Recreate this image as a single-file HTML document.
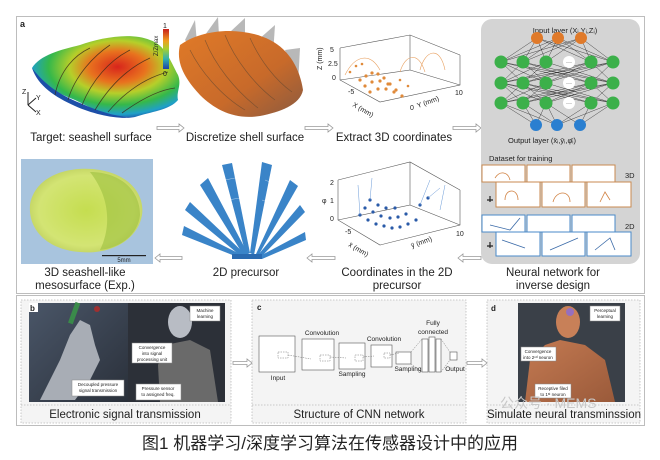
<!DOCTYPE html>
<html><head><meta charset="utf-8"><style>
html,body{margin:0;padding:0;background:#fff;width:660px;height:460px;overflow:hidden}
svg{display:block}
text{font-family:"Liberation Sans",sans-serif;fill:#222}
</style></head><body>
<svg width="660" height="460" viewBox="0 0 660 460" xmlns="http://www.w3.org/2000/svg">
<defs>
<radialGradient id="heat" cx="0.58" cy="0.38" r="0.65">
<stop offset="0" stop-color="#d8251c"/><stop offset="0.3" stop-color="#e8731e"/><stop offset="0.5" stop-color="#b6cf2a"/><stop offset="0.72" stop-color="#35b84a"/><stop offset="0.9" stop-color="#1fa0c8"/><stop offset="1" stop-color="#1d4fa8"/>
</radialGradient>
<linearGradient id="cbar" x1="0" y1="0" x2="0" y2="1">
<stop offset="0" stop-color="#c8201c"/><stop offset="0.3" stop-color="#f0a020"/><stop offset="0.5" stop-color="#a8d030"/><stop offset="0.75" stop-color="#30b0b0"/><stop offset="1" stop-color="#1d40a8"/>
</linearGradient>
<linearGradient id="orng" x1="0" y1="0" x2="1" y2="1">
<stop offset="0" stop-color="#e07a28"/><stop offset="0.6" stop-color="#c86a2a"/><stop offset="1" stop-color="#8a5a40"/>
</linearGradient>
<radialGradient id="jelly" cx="0.5" cy="0.5" r="0.6">
<stop offset="0" stop-color="#c8e040"/><stop offset="0.7" stop-color="#d8e868"/><stop offset="1" stop-color="#b8c848"/>
</radialGradient>
<linearGradient id="hand" x1="0" y1="0" x2="1" y2="1">
<stop offset="0" stop-color="#4a5668"/><stop offset="1" stop-color="#2a303a"/>
</linearGradient>
<linearGradient id="skin" x1="0" y1="0" x2="1" y2="1">
<stop offset="0" stop-color="#c47a52"/><stop offset="1" stop-color="#9a5a3a"/>
</linearGradient>
</defs>

<!-- Top panel -->
<rect x="16.5" y="16.5" width="628" height="277" fill="#fff" stroke="#bdbdbd"/>
<text x="20" y="27" font-size="9" font-weight="bold">a</text>

<!-- shell 1 -->
<path d="M32,68 C40,55 60,50 80,45 C100,38 130,32 150,40 C165,45 170,60 178,75 C182,85 176,92 178,100 C170,110 150,112 135,117 C110,118 95,110 75,100 C55,92 40,85 32,68 Z" fill="url(#heat)"/>
<path d="M32,68 C45,85 60,95 80,103 C100,112 120,118 135,117 C120,120 95,115 75,106 C55,97 38,86 32,68Z" fill="#1d4fa8"/>
<g stroke="#3a2a1a" stroke-width="0.8" fill="none" opacity="0.8">
<path d="M55,95 C60,70 75,55 90,48"/><path d="M68,100 C75,75 95,55 110,45"/><path d="M82,105 C92,80 110,60 130,50"/><path d="M95,110 C110,85 128,68 150,58"/><path d="M108,112 C125,92 145,78 168,72"/><path d="M122,113 C140,100 158,90 175,88"/>
</g>
<rect x="163" y="29" width="6" height="40" fill="url(#cbar)"/>
<text x="163" y="28" font-size="7">1</text><text x="163" y="76" font-size="7">0</text>
<text x="158" y="56" font-size="6" transform="rotate(-90 158 56)">Z/Zmax</text>
<g stroke="#222" stroke-width="1" fill="none"><path d="M28,105 V92"/><path d="M28,105 L36,98"/><path d="M28,105 L36,112"/></g>
<text x="22" y="94" font-size="7">Z</text><text x="36" y="100" font-size="7">Y</text><text x="36" y="115" font-size="7">X</text>

<!-- shell 2 -->
<g fill="#b8b8b8"><path d="M185,40 L195,20 L198,55Z"/><path d="M205,35 L218,17 L220,55Z"/><path d="M230,32 L245,18 L245,60Z"/><path d="M258,40 L275,25 L272,70Z"/><path d="M285,50 L300,48 L298,85Z"/></g>
<path d="M180,45 C200,30 240,25 270,40 C290,50 300,70 303,90 C300,105 280,112 260,116 C235,120 215,110 200,95 C188,82 175,65 180,45Z" fill="url(#orng)"/>
<g stroke="#6a4a30" stroke-width="0.7" fill="none" opacity="0.7">
<path d="M190,50 C200,70 220,95 245,110"/><path d="M205,40 C215,65 235,90 258,108"/><path d="M225,35 C235,60 255,85 275,100"/><path d="M250,38 C260,60 275,80 292,92"/></g>

<!-- 3D plot 1 -->
<g stroke="#555" stroke-width="0.6" fill="none">
<path d="M340,48 V80 L380,102 L460,85 V55"/><path d="M340,48 L410,35 L460,55"/><path d="M410,35 V70 L340,80"/><path d="M410,70 L460,85"/>
</g>
<g fill="#e08a3a">
<circle cx="360" cy="80" r="1.6"/><circle cx="366" cy="76" r="1.6"/><circle cx="372" cy="73" r="1.6"/><circle cx="378" cy="74" r="1.6"/><circle cx="384" cy="78" r="1.6"/><circle cx="390" cy="84" r="1.6"/>
<circle cx="365" cy="86" r="1.6"/><circle cx="372" cy="82" r="1.6"/><circle cx="380" cy="81" r="1.6"/><circle cx="388" cy="84" r="1.6"/><circle cx="396" cy="90" r="1.6"/>
<circle cx="370" cy="92" r="1.6"/><circle cx="378" cy="89" r="1.6"/><circle cx="386" cy="89" r="1.6"/><circle cx="394" cy="92" r="1.6"/><circle cx="402" cy="96" r="1.6"/>
<circle cx="350" cy="72" r="1.3"/><circle cx="356" cy="66" r="1.3"/><circle cx="362" cy="64" r="1.3"/><circle cx="400" cy="80" r="1.3"/><circle cx="408" cy="86" r="1.3"/>
</g>
<g stroke="#e8a060" stroke-width="0.6" fill="none"><path d="M345,75 C355,55 370,52 380,70"/><path d="M420,70 C425,50 440,45 445,70"/><path d="M400,72 C405,55 418,50 425,72"/></g>
<text x="330" y="52" font-size="7">5</text><text x="328" y="66" font-size="7">2.5</text><text x="332" y="80" font-size="7">0</text>
<text x="322" y="70" font-size="7" transform="rotate(-90 322 70)">Z (mm)</text>
<text x="348" y="94" font-size="7">-5</text><text x="352" y="106" font-size="7" transform="rotate(30 352 106)">X (mm)</text>
<text x="410" y="110" font-size="7">0</text><text x="418" y="108" font-size="7" transform="rotate(-20 418 108)">Y (mm)</text><text x="455" y="95" font-size="7">10</text>

<!-- row 1 labels -->
<g font-size="11.5" text-anchor="middle">
<text x="91" y="141">Target: seashell surface</text>
<text x="245" y="141">Discretize shell surface</text>
<text x="394" y="141">Extract 3D coordinates</text>
</g>
<!-- hollow arrows -->
<g fill="#fff" stroke="#999" stroke-width="0.8">
<path d="M157,126.5 H179 V124 L184,128 L179,132 V129.5 H157Z"/>
<path d="M305,126.5 H328 V124 L333,128 L328,132 V129.5 H305Z"/>
<path d="M453,126.5 H476 V124 L481,128 L476,132 V129.5 H453Z"/>
<path d="M182,256.5 H160 V254 L155,258 L160,262 V259.5 H182Z"/>
<path d="M335,256.5 H312 V254 L307,258 L312,262 V259.5 H335Z"/>
<path d="M481,256.5 H463 V254 L458,258 L463,262 V259.5 H481Z"/>
</g>

<!-- neural network box -->
<rect x="481" y="19" width="159" height="245" rx="11" fill="#d4d4d4"/>
<text x="565" y="33" font-size="7.5" text-anchor="middle">Input layer (Xᵢ,Yᵢ,Zᵢ)</text>
<g stroke="#222" stroke-width="0.4">
<path d="M537,38 L501,62 M537,38 L523,62 M537,38 L546,62 M537,38 L591,62 M537,38 L613,62 M558,38 L501,62 M558,38 L523,62 M558,38 L546,62 M558,38 L591,62 M558,38 L613,62 M581,38 L501,62 M581,38 L523,62 M581,38 L546,62 M581,38 L591,62 M581,38 L613,62"/>
<path d="M501,62 L523,83 M501,62 L546,83 M501,62 L591,83 M501,62 L613,83 M523,62 L501,83 M523,62 L546,83 M523,62 L591,83 M523,62 L613,83 M546,62 L501,83 M546,62 L523,83 M546,62 L613,83 M591,62 L501,83 M591,62 L523,83 M591,62 L546,83 M591,62 L613,83 M613,62 L501,83 M613,62 L523,83 M613,62 L546,83 M613,62 L591,83"/>
<path d="M501,83 L523,103 M501,83 L546,103 M501,83 L591,103 M501,83 L613,103 M523,83 L501,103 M523,83 L546,103 M523,83 L591,103 M523,83 L613,103 M546,83 L501,103 M546,83 L523,103 M546,83 L613,103 M591,83 L501,103 M591,83 L523,103 M591,83 L546,103 M591,83 L613,103 M613,83 L501,103 M613,83 L523,103 M613,83 L546,103 M613,83 L591,103"/>
<path d="M501,103 L536,125 M523,103 L536,125 M523,103 L557,125 M546,103 L536,125 M546,103 L557,125 M546,103 L580,125 M591,103 L557,125 M591,103 L580,125 M613,103 L580,125 M501,103 L557,125 M613,103 L557,125"/>
</g>
<g fill="#e07a2a"><circle cx="537" cy="38" r="6"/><circle cx="558" cy="38" r="6"/><circle cx="581" cy="38" r="6"/></g>
<g fill="#3cb04a">
<circle cx="501" cy="62" r="6.5"/><circle cx="523" cy="62" r="6.5"/><circle cx="546" cy="62" r="6.5"/><circle cx="591" cy="62" r="6.5"/><circle cx="613" cy="62" r="6.5"/>
<circle cx="501" cy="83" r="6.5"/><circle cx="523" cy="83" r="6.5"/><circle cx="546" cy="83" r="6.5"/><circle cx="591" cy="83" r="6.5"/><circle cx="613" cy="83" r="6.5"/>
<circle cx="501" cy="103" r="6.5"/><circle cx="523" cy="103" r="6.5"/><circle cx="546" cy="103" r="6.5"/><circle cx="591" cy="103" r="6.5"/><circle cx="613" cy="103" r="6.5"/>
</g>
<g fill="#fff"><circle cx="569" cy="62" r="6"/><circle cx="569" cy="83" r="6"/><circle cx="569" cy="103" r="6"/></g>
<g font-size="6" text-anchor="middle" fill="#888"><text x="569" y="64">···</text><text x="569" y="85">···</text><text x="569" y="105">···</text></g>
<g fill="#2a7fd0"><circle cx="536" cy="125" r="6"/><circle cx="557" cy="125" r="6"/><circle cx="580" cy="125" r="6"/></g>
<text x="542" y="143" font-size="7.5" text-anchor="middle">Output layer (x̄ᵢ,ȳᵢ,φ̄ᵢ)</text>
<text x="489" y="161" font-size="7.5">Dataset for training</text>
<g fill="#fff" stroke="#c88a50" stroke-width="1">
<rect x="482" y="165" width="43" height="17"/><rect x="527" y="165" width="43" height="17"/><rect x="572" y="165" width="43" height="17"/>
<rect x="496" y="182" width="44" height="25"/><rect x="542" y="182" width="43" height="25"/><rect x="587" y="182" width="44" height="25"/>
</g>
<g fill="#fff" stroke="#4a8ac8" stroke-width="1">
<rect x="482" y="215" width="43" height="17"/><rect x="527" y="215" width="43" height="17"/><rect x="572" y="215" width="43" height="17"/>
<rect x="496" y="232" width="44" height="24"/><rect x="542" y="232" width="43" height="24"/><rect x="587" y="232" width="44" height="24"/>
</g>
<g stroke="#d08040" stroke-width="0.8" fill="none"><path d="M505,200 C505,188 518,188 518,200"/><path d="M553,202 C556,190 570,190 570,202"/><path d="M600,202 L605,192 L610,200"/><path d="M495,178 C500,170 508,172 510,180"/></g>
<g stroke="#3a6aa8" stroke-width="0.8" fill="none"><path d="M502,240 L525,248"/><path d="M550,250 L578,238"/><path d="M595,250 L610,238 L615,250"/><path d="M490,225 L510,230 L520,218"/></g>
<text x="625" y="178" font-size="7.5">3D</text><text x="625" y="229" font-size="7.5">2D</text>
<g stroke="#222" stroke-width="1.2"><path d="M487,200 h6 M490,196 v6 M487,246 h6 M490,242 v6"/></g>

<!-- row 2 -->
<rect x="21" y="159" width="132" height="105" fill="#a8c4de"/>
<path d="M30,205 C35,175 70,165 100,170 C130,175 145,195 142,215 C138,240 110,255 80,252 C50,250 28,232 30,205Z" fill="url(#jelly)" opacity="0.9"/>
<path d="M90,172 C120,172 140,190 140,215 C138,235 120,248 100,250 C110,230 112,200 90,172Z" fill="#9cc040" opacity="0.6"/>
<rect x="102" y="255" width="44" height="1.2" fill="#222"/>
<text x="124" y="262" font-size="6" text-anchor="middle">5mm</text>

<!-- fan -->
<g fill="#3a84c8">
<path d="M246,255 L222,165 L232,163 L250,253Z"/><path d="M250,253 L262,162 L272,165 L254,255Z"/>
<path d="M244,256 L200,185 L208,178 L248,254Z"/><path d="M256,254 L290,180 L298,186 L258,256Z"/>
<path d="M242,257 L185,210 L190,202 L246,255Z"/><path d="M258,255 L300,205 L305,212 L260,258Z"/>
<path d="M240,258 L182,235 L184,226 L244,256Z"/><path d="M260,256 L305,232 L306,240 L262,259Z"/>
</g>
<g stroke="#fff" stroke-width="0.5" opacity="0.6"><path d="M225,180 L235,178 M228,200 L240,198 M265,180 L270,182 M262,200 L268,202"/></g>
<rect x="232" y="254" width="30" height="5" fill="#2a6ab0"/>

<!-- 3D plot 2 -->
<g stroke="#555" stroke-width="0.6" fill="none">
<path d="M338,180 V220 L380,245 L460,225 V190"/><path d="M338,180 L410,162 L460,190"/><path d="M410,162 V205 L338,220"/><path d="M410,205 L460,225"/>
</g>
<g fill="#2a5aa8">
<circle cx="360" cy="215" r="1.6"/><circle cx="368" cy="220" r="1.6"/><circle cx="376" cy="224" r="1.6"/><circle cx="384" cy="226" r="1.6"/><circle cx="392" cy="228" r="1.6"/><circle cx="400" cy="227" r="1.6"/><circle cx="408" cy="224" r="1.6"/><circle cx="416" cy="220" r="1.6"/>
<circle cx="365" cy="208" r="1.6"/><circle cx="373" cy="212" r="1.6"/><circle cx="381" cy="216" r="1.6"/><circle cx="390" cy="218" r="1.6"/><circle cx="398" cy="217" r="1.6"/><circle cx="406" cy="214" r="1.6"/>
<circle cx="370" cy="200" r="1.6"/><circle cx="378" cy="205" r="1.6"/><circle cx="386" cy="208" r="1.6"/><circle cx="395" cy="208" r="1.6"/><circle cx="420" cy="205" r="1.6"/><circle cx="428" cy="198" r="1.6"/>
</g>
<g stroke="#6a9ad8" stroke-width="0.5" fill="none"><path d="M360,215 L358,185 M370,200 L372,178 M420,205 L430,180 M428,198 L440,188 M440,210 L445,185"/></g>
<text x="330" y="185" font-size="7">2</text><text x="330" y="203" font-size="7">1</text><text x="330" y="221" font-size="7">0</text><text x="322" y="203" font-size="7">φ</text>
<text x="345" y="234" font-size="7">-5</text><text x="348" y="246" font-size="7" transform="rotate(30 348 246)">x̄ (mm)</text>
<text x="412" y="248" font-size="7" transform="rotate(-20 412 248)">ȳ (mm)</text><text x="456" y="236" font-size="7">10</text>

<g font-size="11.5" text-anchor="middle">
<text x="85" y="276">3D seashell-like</text><text x="85" y="289">mesosurface (Exp.)</text>
<text x="246" y="276">2D precursor</text>
<text x="397" y="276">Coordinates in the 2D</text><text x="397" y="289">precursor</text>
<text x="553" y="276">Neural network for</text><text x="553" y="289">inverse design</text>
</g>

<!-- Bottom panel -->
<rect x="16.5" y="295.5" width="628" height="130" fill="#fff" stroke="#bdbdbd"/>
<g fill="#f4f4f4" stroke="#bbb" stroke-dasharray="1.5,1.5" stroke-width="0.8">
<rect x="21" y="300" width="210" height="123"/><rect x="252" y="300" width="214" height="123"/><rect x="487" y="300" width="153" height="123"/>
</g>
<g stroke="#bbb" stroke-dasharray="1.5,1.5" stroke-width="0.8"><path d="M21,405 H231 M252,405 H466 M487,405 H640"/></g>

<!-- b photo -->
<rect x="29" y="303" width="99" height="99" fill="url(#hand)"/>
<rect x="128" y="303" width="97" height="99" fill="#2c3038"/>
<path d="M40,400 L60,360 L70,335 L80,320 L90,325 L95,345 L100,360 L90,380 L75,400Z" fill="#a8adb5"/>
<rect x="72" y="302" width="5" height="22" fill="#3a8a4a" transform="rotate(20 74 312)"/>
<circle cx="97" cy="309" r="3" fill="#a03030"/>
<path d="M160,402 L158,365 L165,345 L190,340 L210,350 L218,402Z" fill="#6a6a6a"/>
<ellipse cx="180" cy="322" rx="12" ry="16" fill="#b8bcc4"/>
<g fill="#fff" stroke="#888" stroke-width="0.5"><rect x="190" y="306" width="30" height="15"/><rect x="132" y="343" width="40" height="20"/><rect x="72" y="380" width="52" height="16"/><rect x="136" y="384" width="45" height="16"/></g>
<g font-size="4.5" text-anchor="middle" fill="#333"><text x="205" y="312">Machine</text><text x="205" y="318">learning</text>
<text x="152" y="349">Convergence</text><text x="152" y="355">into signal</text><text x="152" y="361">processing unit</text>
<text x="98" y="386">Decoupled pressure</text><text x="98" y="392">signal transmission</text>
<text x="158" y="390">Pressure sensor</text><text x="158" y="396">to assigned freq.</text></g>
<rect x="29" y="303" width="9" height="9" fill="#fff"/><text x="30" y="311" font-size="8" font-weight="bold">b</text>

<!-- c CNN -->
<text x="257" y="310" font-size="8" font-weight="bold">c</text>
<g fill="#fff" stroke="#555" stroke-width="0.6">
<rect x="259" y="336" width="36" height="36"/><rect x="302" y="339" width="32" height="31"/><rect x="339" y="343" width="26" height="26"/><rect x="371" y="345" width="21" height="22"/><rect x="396" y="352" width="15" height="12"/>
<rect x="422" y="339" width="6" height="33"/><rect x="429" y="337" width="6" height="35"/><rect x="436" y="339" width="5" height="33"/><rect x="450" y="352" width="7" height="8"/>
</g>
<g stroke="#777" stroke-width="0.5" stroke-dasharray="1.5,1" fill="none"><path d="M278,352 h10 v6 h-10z M288,355 L311,359 M320,355 h10 v6 h-10z M330,357 L346,358 M355,355 h8 v6 h-8z M363,357 L374,356 M384,353 h6 v5 h-6z M390,355 L399,353 M411,352 L422,339 M411,364 L422,372 M441,339 L450,352 M441,372 L450,360"/></g>
<g font-size="6.5" text-anchor="middle"><text x="278" y="380">Input</text><text x="322" y="335">Convolution</text><text x="352" y="376">Sampling</text><text x="384" y="341">Convolution</text><text x="408" y="371">Sampling</text><text x="433" y="325">Fully</text><text x="433" y="334">connected</text><text x="455" y="371">Output</text></g>

<g fill="#fff" stroke="#999" stroke-width="0.8">
<path d="M233,361.5 H247 V359 L252,363 L247,367 V364.5 H233Z"/>
<path d="M467,361.5 H482 V359 L487,363 L482,367 V364.5 H467Z"/>
</g>

<!-- d photo -->
<rect x="518" y="303" width="107" height="99" fill="#3a4048"/>
<path d="M525,402 L530,360 L545,345 L560,340 L585,345 L605,360 L615,402Z" fill="url(#skin)"/>
<ellipse cx="568" cy="322" rx="12" ry="16" fill="#c88058"/>
<circle cx="570" cy="312" r="4" fill="#8a6ad8" opacity="0.8"/>
<g fill="#fff" stroke="#888" stroke-width="0.5"><rect x="590" y="306" width="30" height="15"/><rect x="521" y="347" width="35" height="14"/><rect x="535" y="384" width="36" height="14"/></g>
<g font-size="4.5" text-anchor="middle" fill="#333"><text x="605" y="312">Perceptual</text><text x="605" y="318">learning</text>
<text x="538" y="353">Convergence</text><text x="538" y="359">into 2ⁿᵈ neuron</text>
<text x="553" y="390">Receptive filed</text><text x="553" y="396">to 1ˢᵗ neuron</text></g>
<rect x="489" y="303" width="9" height="9" fill="#f4f4f4"/><text x="491" y="311" font-size="8" font-weight="bold">d</text>
<text x="500" y="408" font-size="14" fill="#bbb" style="fill:#c8c8c8;font-family:'Liberation Sans','Noto Sans CJK SC',sans-serif">公众号 · MEMS</text>

<g font-size="11.5" text-anchor="middle"><text x="125" y="418">Electronic signal transmission</text><text x="359" y="418">Structure of CNN network</text><text x="564" y="418">Simulate neural transminssion</text></g>

<text x="330" y="449" font-size="17" text-anchor="middle" style="font-family:'Liberation Sans','Noto Sans CJK SC',sans-serif">图1 机器学习/深度学习算法在传感器设计中的应用</text>
</svg>
</body></html>
